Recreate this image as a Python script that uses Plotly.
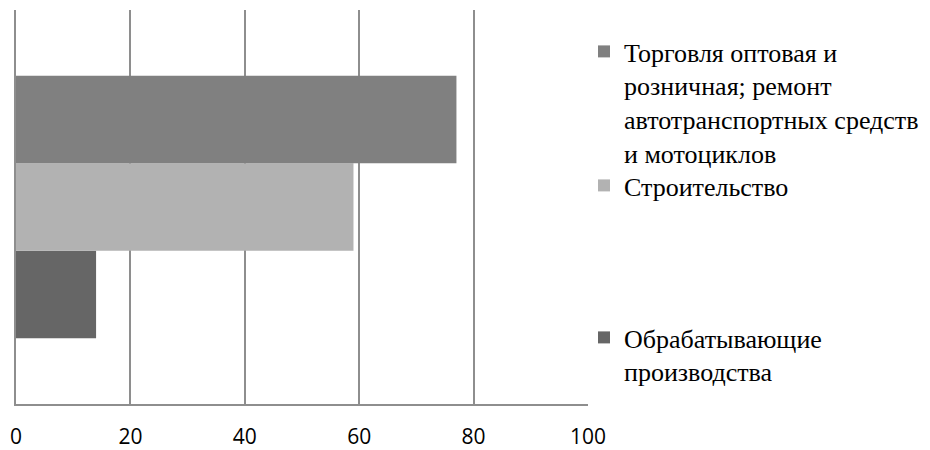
import plotly.graph_objects as go

# Data (bottom to top in the chart)
series_names = [
    "Обрабатывающие<br>производства",
    "Строительство",
    "Торговля оптовая и<br>розничная; ремонт<br>автотранспортных средств<br>и мотоциклов",
]
series_values = [14, 59, 77]
series_colors = ["#666666", "#b2b2b2", "#808080"]
category = [""]
x_ticks = [0, 20, 40, 60, 80, 100]

# legend top positions (pixels from top of figure) for each series
legend_tops = [306, 154, 20]
legend_ids = ["legend3", "legend2", "legend"]

W, H = 922, 442
fig = go.Figure()
for name, val, col, lid in zip(series_names, series_values, series_colors, legend_ids):
    fig.add_trace(go.Bar(
        x=[val], y=category, orientation="h", name=name,
        marker=dict(color=col, line=dict(width=0)),
        legend=lid,
    ))

legend_common = dict(
    xref="container", yref="container", x=576 / W, xanchor="left", yanchor="top",
    font=dict(family="Liberation Serif, Times New Roman, serif", size=26, color="#000000"),
    bgcolor="rgba(0,0,0,0)", borderwidth=0, valign="top",
)
layout_legends = {}
for lid, top in zip(legend_ids, legend_tops):
    layout_legends[lid] = dict(legend_common, y=1 - top / H)

fig.update_layout(
    width=W, height=H,
    margin=dict(l=7.5, r=342, t=2, b=46, pad=0, autoexpand=False),
    paper_bgcolor="white", plot_bgcolor="white",
    barmode="group", bargap=1 / 3, bargroupgap=0,
    showlegend=True,
    xaxis=dict(
        range=[0, 100], tickvals=x_ticks, ticktext=[str(t) for t in x_ticks],
        showgrid=True, gridcolor="#8e8e8e", gridwidth=1.5,
        showline=True, linecolor="#8e8e8e", linewidth=1.5,
        zeroline=False, ticks="", ticklabelstandoff=13,
        tickfont=dict(family="Open Sans, Calibri, sans-serif", size=21, color="#000000"),
        automargin=False, fixedrange=True,
    ),
    yaxis=dict(
        showticklabels=False, showgrid=False, zeroline=False,
        showline=True, linecolor="#8e8e8e", linewidth=1.5,
        automargin=False, fixedrange=True,
    ),
    **layout_legends,
)

fig.write_html("out.html")
